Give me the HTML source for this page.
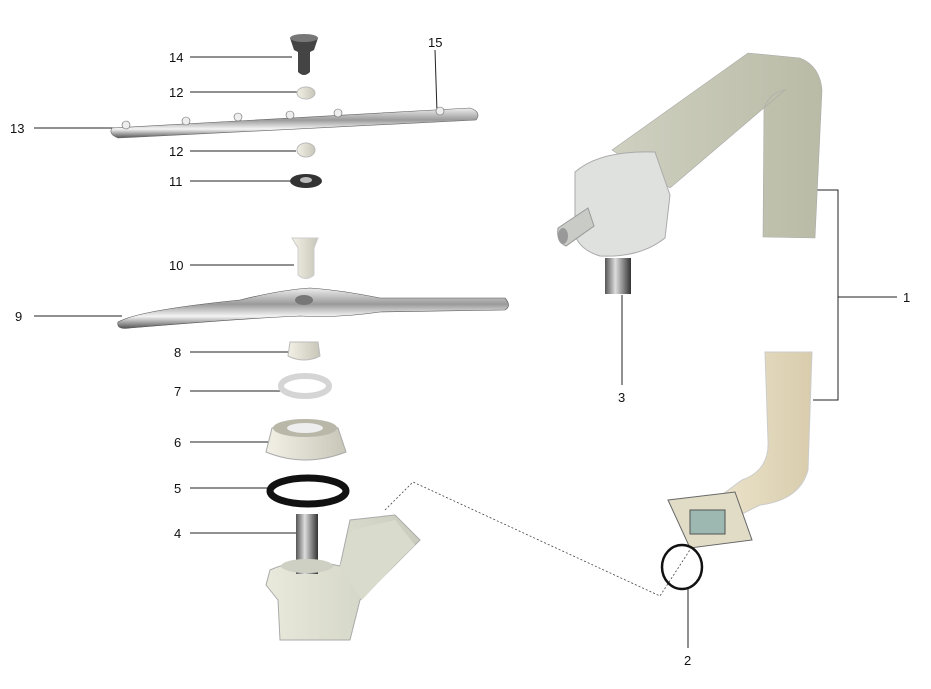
<!DOCTYPE html>
<html><head><meta charset="utf-8"><style>
html,body{margin:0;padding:0;background:#fff;}
svg{display:block;}
text{font-family:"Liberation Sans",sans-serif;font-size:13px;fill:#111;}
</style></head><body>
<svg width="931" height="689" viewBox="0 0 931 689" xmlns="http://www.w3.org/2000/svg">
<defs>
<linearGradient id="chrome" x1="0" y1="0" x2="0" y2="1">
<stop offset="0" stop-color="#eee"/><stop offset="0.4" stop-color="#9a9a9a"/><stop offset="0.7" stop-color="#f4f4f4"/><stop offset="1" stop-color="#555"/></linearGradient>
<linearGradient id="chromeV" x1="0" y1="0" x2="1" y2="0">
<stop offset="0" stop-color="#555"/><stop offset="0.4" stop-color="#ddd"/><stop offset="0.7" stop-color="#888"/><stop offset="1" stop-color="#333"/></linearGradient>
<linearGradient id="gray" x1="0" y1="0" x2="1" y2="0">
<stop offset="0" stop-color="#cfd0c0"/><stop offset="1" stop-color="#b9bba6"/></linearGradient>
<linearGradient id="base" x1="0" y1="0" x2="1" y2="0">
<stop offset="0" stop-color="#e9e9dc"/><stop offset="1" stop-color="#c9ccbc"/></linearGradient>
<linearGradient id="beige" x1="0" y1="0" x2="1" y2="0">
<stop offset="0" stop-color="#ece4cc"/><stop offset="1" stop-color="#d8ccac"/></linearGradient>
<linearGradient id="pale" x1="0" y1="0" x2="1" y2="0">
<stop offset="0" stop-color="#f3f1e6"/><stop offset="1" stop-color="#c8c6b8"/></linearGradient>
</defs>
<g stroke="#222" stroke-width="1" fill="none">
<line x1="190" y1="57" x2="292" y2="57"/>
<line x1="435" y1="50" x2="437" y2="112"/>
<line x1="190" y1="92" x2="298" y2="92"/>
<line x1="34" y1="128" x2="115" y2="128"/>
<line x1="190" y1="151" x2="296" y2="151"/>
<line x1="190" y1="181" x2="290" y2="181"/>
<line x1="190" y1="265" x2="294" y2="265"/>
<line x1="34" y1="316" x2="122" y2="316"/>
<line x1="190" y1="352" x2="290" y2="352"/>
<line x1="190" y1="391" x2="282" y2="391"/>
<line x1="190" y1="442" x2="275" y2="442"/>
<line x1="190" y1="488" x2="268" y2="488"/>
<line x1="190" y1="533" x2="297" y2="533"/>
<line x1="622" y1="385" x2="622" y2="295"/>
<polyline points="813,190 838,190 838,400 813,400"/>
<line x1="838" y1="297" x2="897" y2="297"/>
<line x1="688" y1="648" x2="688" y2="588"/>
</g>
<g stroke="#444" stroke-width="0.8" stroke-dasharray="2,2" fill="none">
<polyline points="385,510 413,482 660,596 708,522"/>
</g>
<!-- 14 -->
<path d="M290,38 Q304,32 318,38 L314,50 L310,52 L310,72 Q304,78 298,72 L298,52 L294,50 Z" fill="#444"/>
<ellipse cx="304" cy="38" rx="14" ry="4" fill="#777"/>
<!-- 12 -->
<ellipse cx="306" cy="93" rx="9" ry="6" fill="url(#pale)" stroke="#bbb"/>
<!-- 13 bar -->
<path d="M112,128 L470,108 Q482,112 476,120 L118,138 Q108,134 112,128 Z" fill="url(#chrome)" stroke="#666" stroke-width="0.6"/>
<g fill="#eee" stroke="#666" stroke-width="0.6"><circle cx="126" cy="125" r="4"/><circle cx="186" cy="121" r="4"/><circle cx="238" cy="117" r="4"/><circle cx="290" cy="115" r="4"/><circle cx="338" cy="113" r="4"/><circle cx="440" cy="111" r="4"/></g>
<ellipse cx="306" cy="150" rx="9" ry="7" fill="url(#pale)" stroke="#bbb"/>
<!-- 11 -->
<ellipse cx="306" cy="181" rx="16" ry="7" fill="#333"/>
<ellipse cx="306" cy="180" rx="6" ry="3" fill="#bbb"/>
<!-- 10 -->
<path d="M292,238 L318,238 L314,248 L314,275 Q306,282 298,275 L298,248 Z" fill="url(#pale)" stroke="#ccc"/>
<!-- 9 arm -->
<path d="M118,322 Q140,310 240,300 Q280,290 310,288 Q340,290 380,298 L505,298 Q512,306 505,310 L380,312 Q340,318 300,316 Q250,318 130,328 Q116,330 118,322 Z" fill="url(#chrome)" stroke="#555" stroke-width="0.6"/>
<ellipse cx="304" cy="300" rx="9" ry="5" fill="#777"/>
<!-- 8 -->
<path d="M290,342 L318,342 L320,356 Q304,364 288,356 Z" fill="url(#pale)" stroke="#bbb"/>
<!-- 7 -->
<ellipse cx="305" cy="386" rx="24" ry="10" fill="none" stroke="#d5d5d5" stroke-width="6"/>
<!-- 6 -->
<path d="M272,428 Q305,416 338,428 L346,452 Q305,468 266,452 Z" fill="url(#pale)" stroke="#aaa"/>
<ellipse cx="305" cy="428" rx="32" ry="9" fill="#b8b7a8"/>
<ellipse cx="305" cy="428" rx="18" ry="5" fill="#eee"/>
<!-- 5 -->
<ellipse cx="308" cy="491" rx="38" ry="13" fill="none" stroke="#111" stroke-width="7"/>
<!-- 4 -->
<path d="M270,570 Q300,556 340,566 L350,520 L395,515 L420,540 L400,560 L360,600 L350,640 L280,640 L278,600 L266,585 Z" fill="url(#base)" stroke="#aaa"/>
<path d="M340,566 L352,530 L395,520 L415,545 L395,565 L362,600 Z" fill="#d9dccd"/>
<rect x="296" y="514" width="22" height="60" fill="url(#chromeV)"/>
<ellipse cx="307" cy="566" rx="26" ry="7" fill="#cfd0c4"/>
<!-- 1 upper pipe -->
<path d="M612,150 L748,53 L800,58 Q820,66 822,90 L815,238 L763,237 L764,108 Q770,92 785,90 L670,188 Z" fill="url(#gray)" stroke="#aaa" stroke-width="0.6"/>
<!-- 3 -->
<path d="M575,172 Q600,150 655,152 L670,195 L665,238 Q640,258 600,256 Q580,250 575,235 Z" fill="#dfe1de" stroke="#aaa"/>
<path d="M558,228 L588,208 L594,226 L566,246 Q556,242 558,228 Z" fill="#c9cbc7" stroke="#999"/>
<ellipse cx="563" cy="236" rx="5" ry="8" fill="#999"/>
<rect x="605" y="258" width="26" height="36" fill="url(#chromeV)"/>
<!-- 1 lower pipe -->
<path d="M765,352 L812,352 L808,470 Q800,500 760,505 L730,520 L715,500 L742,480 Q770,470 768,440 Z" fill="url(#beige)" stroke="#ccc"/>
<path d="M668,500 L735,492 L752,540 L690,548 Z" fill="#e0dcc6" stroke="#666"/>
<rect x="690" y="510" width="35" height="24" fill="#9cb8b0" stroke="#555"/>
<!-- 2 ring -->
<ellipse cx="682" cy="567" rx="20" ry="22" fill="none" stroke="#111" stroke-width="2.5"/>
<text x="169" y="62">14</text>
<text x="428" y="47">15</text>
<text x="169" y="97">12</text>
<text x="10" y="133">13</text>
<text x="169" y="156">12</text>
<text x="169" y="186">11</text>
<text x="169" y="270">10</text>
<text x="15" y="321">9</text>
<text x="174" y="357">8</text>
<text x="174" y="396">7</text>
<text x="174" y="447">6</text>
<text x="174" y="493">5</text>
<text x="174" y="538">4</text>
<text x="618" y="402">3</text>
<text x="903" y="302">1</text>
<text x="684" y="665">2</text>
</svg>
</body></html>
